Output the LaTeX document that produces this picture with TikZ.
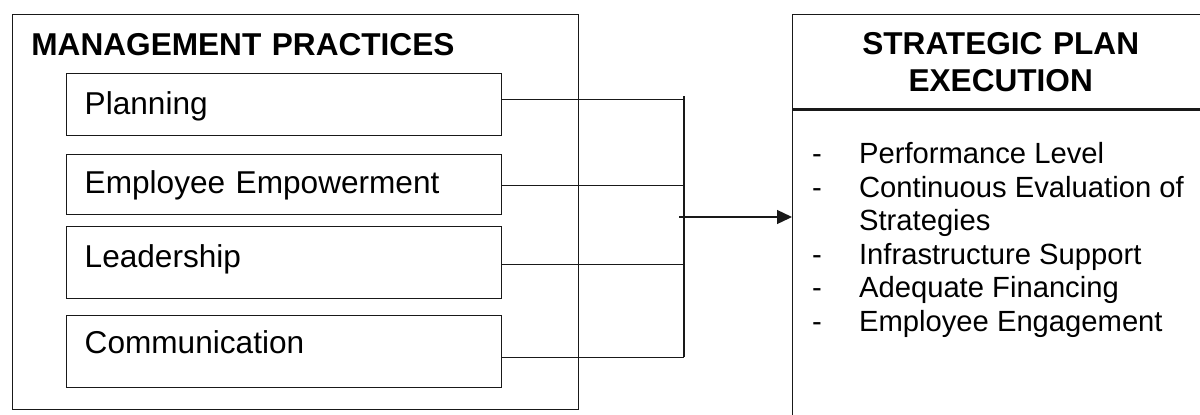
\documentclass[tikz,border=0pt]{standalone}
\usepackage{fontspec}
\setmainfont{Liberation Sans}
\usetikzlibrary{arrows.meta, positioning}
\definecolor{ink}{RGB}{25,25,25}

\begin{document}
\begin{tikzpicture}[x=0.5pt, y=-0.5pt,
    font=\fontsize{15.8pt}{18.5pt}\selectfont,
    frame/.style={draw=ink, line width=0.7pt},
    practice/.style={frame, anchor=north west, text width=199.5pt, align=left,
      inner xsep=9pt, inner ysep=0pt},
    heading/.style={font=\fontsize{15.8pt}{18.5pt}\selectfont\bfseries},
    link/.style={ink, line width=0.65pt},
    flow/.style={link, -{Triangle[length=7.5pt, width=7pt]}}]
  \useasboundingbox (0,0) rectangle (1200,414);
  \clip (0,0) rectangle (1200,414);
  % management practices
  \node[frame, heading, anchor=north west, text width=264.3pt, align=left,
    inner xsep=9.35pt, inner ysep=0pt, text height=20.5pt, text depth=177pt]
    (mgmt) at (12,14) {MANAGEMENT PRACTICES};
  \node[practice, text height=20.5pt, text depth=10.5pt] (planning) at (66,73) {Planning};
  \node[practice, text height=19.5pt, text depth=10.5pt] (employee) at (66,154) {Employee Empowerment};
  \node[practice, text height=20.5pt, text depth=15.5pt] (leadership) at (66,226) {Leadership};
  \node[practice, text height=19pt, text depth=17pt] (communication) at (66,315) {Communication};
  % strategic plan execution
  \node[frame, heading, anchor=north west, text width=208pt, inner sep=0pt,
    align=center, minimum height=47pt] (planhead) at (792,14) {STRATEGIC PLAN\\EXECUTION};
  \node[frame, minimum width=208pt, minimum height=170pt, inner sep=0pt,
    below=0pt of planhead] (planbody) {};
  \node[anchor=north west, inner sep=0pt, font=\fontsize{14.6pt}{16.8pt}\selectfont]
    (goals) at (811.7,139.5) {\begin{tabular}{@{}p{23.5pt}@{}l@{}}
      - & Performance Level\\
      - & Continuous Evaluation of\\
        & Strategies\\
      - & Infrastructure Support\\
      - & Adequate Financing\\
      - & Employee Engagement
    \end{tabular}};
  % connectors
  \coordinate (bus) at (684,96);
  \coordinate (busend) at (684,357);
  \coordinate (junction) at (679,217);
  \foreach \n/\dy in {planning/2.5, employee/-0.5, leadership/-1, communication/-3}
    \draw[link] ([yshift=\dy pt]\n.east) -- ([yshift=\dy pt]\n.east -| bus);
  \draw[link] (bus) -- (busend);
  \draw[flow] (junction) -- (junction -| planbody.west);
\end{tikzpicture}
\end{document}
